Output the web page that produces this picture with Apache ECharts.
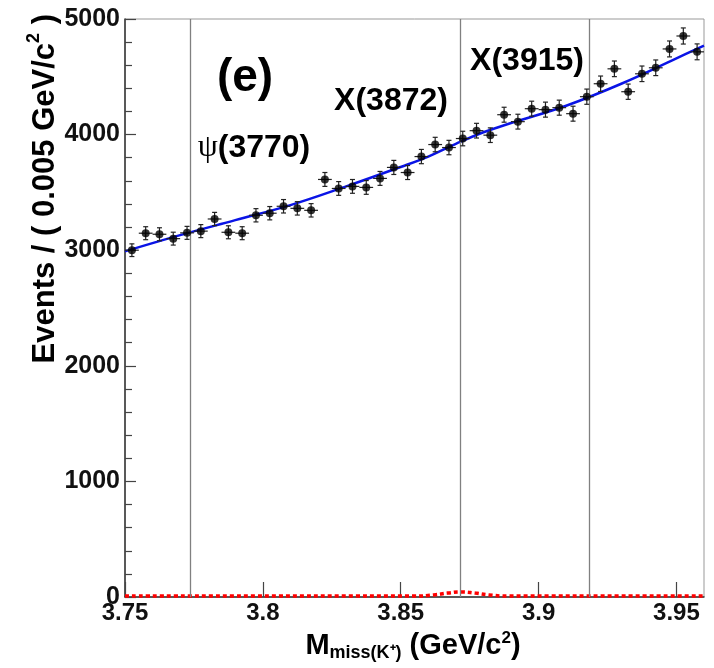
<!DOCTYPE html>
<html>
<head>
<meta charset="utf-8">
<script src="https://cdn.jsdelivr.net/npm/echarts@6/dist/echarts.min.js"></script>
<style>
  html, body { margin: 0; padding: 0; background: #fff; }
  #chart { width: 714px; height: 668px; }
</style>
</head>
<body>
<div id="chart"></div>
<script>
// bin centres of the missing-mass histogram (GeV/c^2)
var binCenters = [
  3.7525, 3.7575, 3.7625, 3.7675, 3.7725, 3.7775, 3.7825, 3.7875, 3.7925, 3.7975,
  3.8025, 3.8075, 3.8125, 3.8175, 3.8225, 3.8275, 3.8325, 3.8375, 3.8425, 3.8475,
  3.8525, 3.8575, 3.8625, 3.8675, 3.8725, 3.8775, 3.8825, 3.8875, 3.8925, 3.8975,
  3.9025, 3.9075, 3.9125, 3.9175, 3.9225, 3.9275, 3.9325, 3.9375, 3.9425, 3.9475,
  3.9525, 3.9575
];
// events per bin
var counts = [
  3000, 3147, 3138, 3100, 3150, 3165, 3270, 3155, 3147, 3302,
  3320, 3380, 3362, 3345, 3612, 3534, 3552, 3543, 3621, 3716,
  3672, 3810, 3914, 3888, 3966, 4034, 3995, 4172, 4112, 4224,
  4216, 4233, 4181, 4328, 4440, 4569, 4371, 4526, 4578, 4741,
  4853, 4716
];
var halfBin = 0.0025;

// total fit (blue)
var fitX = [3.75, 3.77, 3.79, 3.81, 3.83, 3.85, 3.86, 3.87, 3.88, 3.89, 3.91, 3.93, 3.95, 3.96];
var fitY = [2990, 3130, 3260, 3390, 3550, 3720, 3810, 3920, 4020, 4100, 4250, 4440, 4660, 4770];

// signal component (red dotted)
var sigX = [3.75, 3.855, 3.862, 3.867, 3.872, 3.877, 3.882, 3.889, 3.96];
var sigY = [8, 8, 18, 34, 44, 34, 18, 8, 8];

// nominal masses of the charmonium states
var stateMasses = [3.7737, 3.8717, 3.9184];

var font = 'Liberation Sans, Arial, Helvetica, sans-serif';
var chart = echarts.init(document.getElementById('chart'));

var points = binCenters.map(function (x, i) { return [x, counts[i], Math.sqrt(counts[i])]; });

var option = {
  animation: false,
  backgroundColor: '#fff',
  grid: {
    left: 125, right: 10, top: 19, bottom: 71,
    show: true, borderColor: '#999', borderWidth: 1,
    outerBoundsMode: 'none'
  },
  xAxis: {
    type: 'value', min: 3.75, max: 3.96, interval: 0.05,
    axisLine: { show: true, onZero: false, lineStyle: { color: '#333', width: 1.5 } },
    axisTick: { show: true, inside: true, length: 15, lineStyle: { color: '#444', width: 1.2 } },
    splitLine: { show: false },
    axisLabel: {
      color: '#111', fontFamily: font, fontWeight: 'bold', fontSize: 24, margin: 4,
      showMaxLabel: false,
      formatter: function (v) { return String(+v.toFixed(2)); }
    }
  },
  yAxis: {
    type: 'value', min: 0, max: 5000, interval: 1000,
    axisLine: { show: true, lineStyle: { color: '#333', width: 1.5 } },
    axisTick: { show: true, inside: true, length: 11, lineStyle: { color: '#444', width: 1.2 } },
    minorTick: { show: true, splitNumber: 5, length: 7, lineStyle: { color: '#444', width: 1.2 } },
    splitLine: { show: false },
    axisLabel: {
      color: '#111', fontFamily: font, fontWeight: 'bold', fontSize: 25, margin: 5,
      formatter: function (v) { return String(v); }
    }
  },
  series: [
    {
      type: 'line', data: fitX.map(function (x, i) { return [x, fitY[i]]; }),
      smooth: 0.4, showSymbol: false, z: 3,
      lineStyle: { color: '#0a14e6', width: 2.5 },
      markLine: {
        silent: true, symbol: 'none', animation: false, precision: 4,
        label: { show: false },
        lineStyle: { color: '#808080', width: 1.3, type: 'solid' },
        data: stateMasses.map(function (m) { return { xAxis: m }; })
      }
    },
    {
      type: 'line', data: sigX.map(function (x, i) { return [x, sigY[i]]; }),
      smooth: 0.5, showSymbol: false, z: 4,
      lineStyle: { color: '#ff0000', width: 3.5, type: [4, 3] }
    },
    {
      type: 'custom', z: 5,
      data: points,
      renderItem: function (params, api) {
        var x = api.value(0), y = api.value(1), e = api.value(2);
        var top = api.coord([x, y + e]);
        var bot = api.coord([x, y - e]);
        var l = api.coord([x - halfBin, y]);
        var r = api.coord([x + halfBin, y]);
        var st = { stroke: '#222', lineWidth: 1.2 };
        return {
          type: 'group',
          children: [
            { type: 'line', shape: { x1: top[0], y1: top[1], x2: bot[0], y2: bot[1] }, style: st },
            { type: 'line', shape: { x1: l[0], y1: l[1], x2: r[0], y2: r[1] }, style: st },
            { type: 'line', shape: { x1: top[0] - 2.5, y1: top[1], x2: top[0] + 2.5, y2: top[1] }, style: st },
            { type: 'line', shape: { x1: bot[0] - 2.5, y1: bot[1], x2: bot[0] + 2.5, y2: bot[1] }, style: st }
          ]
        };
      }
    },
    {
      type: 'scatter', z: 6, symbol: 'circle', symbolSize: 8,
      data: points.map(function (p) { return [p[0], p[1]]; }),
      itemStyle: { color: '#000' }
    }
  ],
  graphic: [
    {
      type: 'text', x: 245, y: 78,
      style: { text: '(e)', fill: '#000', font: 'bold 46px ' + font, textAlign: 'center', textVerticalAlign: 'middle' }
    },
    {
      type: 'text', x: 391, y: 101,
      style: { text: 'X(3872)', fill: '#000', font: 'bold 32px ' + font, textAlign: 'center', textVerticalAlign: 'middle' }
    },
    {
      type: 'text', x: 527, y: 61,
      style: { text: 'X(3915)', fill: '#000', font: 'bold 32px ' + font, textAlign: 'center', textVerticalAlign: 'middle' }
    },
    {
      type: 'text', x: 254, y: 148,
      style: {
        text: '{g|ψ}{n|(3770)}', textAlign: 'center', textVerticalAlign: 'middle',
        rich: {
          g: { fill: '#000', fontFamily: 'Liberation Serif, DejaVu Serif, serif', fontSize: 32 },
          n: { fill: '#000', fontFamily: font, fontWeight: 'bold', fontSize: 32 }
        }
      }
    },
    {
      type: 'text', x: 43, y: 14, rotation: Math.PI / 2,
      style: {
        text: '{m|Events / ( 0.005 GeV/c}{s|2}{m| )}', textAlign: 'right', textVerticalAlign: 'middle',
        rich: {
          m: { fill: '#000', fontFamily: font, fontWeight: 'bold', fontSize: 31, lineHeight: 36, verticalAlign: 'bottom' },
          s: { fill: '#000', fontFamily: font, fontWeight: 'bold', fontSize: 18, lineHeight: 36, verticalAlign: 'top' }
        }
      }
    },
    {
      type: 'text', x: 413, y: 646,
      style: {
        text: '{m|M}{b|miss(K⁺)}{m| (GeV/c}{s|2}{m|)}', textAlign: 'center', textVerticalAlign: 'middle',
        rich: {
          m: { fill: '#000', fontFamily: font, fontWeight: 'bold', fontSize: 29, lineHeight: 32, verticalAlign: 'middle' },
          b: { fill: '#000', fontFamily: font, fontWeight: 'bold', fontSize: 18, lineHeight: 20, verticalAlign: 'bottom' },
          s: { fill: '#000', fontFamily: font, fontWeight: 'bold', fontSize: 17, lineHeight: 32, verticalAlign: 'top' }
        }
      }
    }
  ]
};

chart.setOption(option);
</script>
</body>
</html>
